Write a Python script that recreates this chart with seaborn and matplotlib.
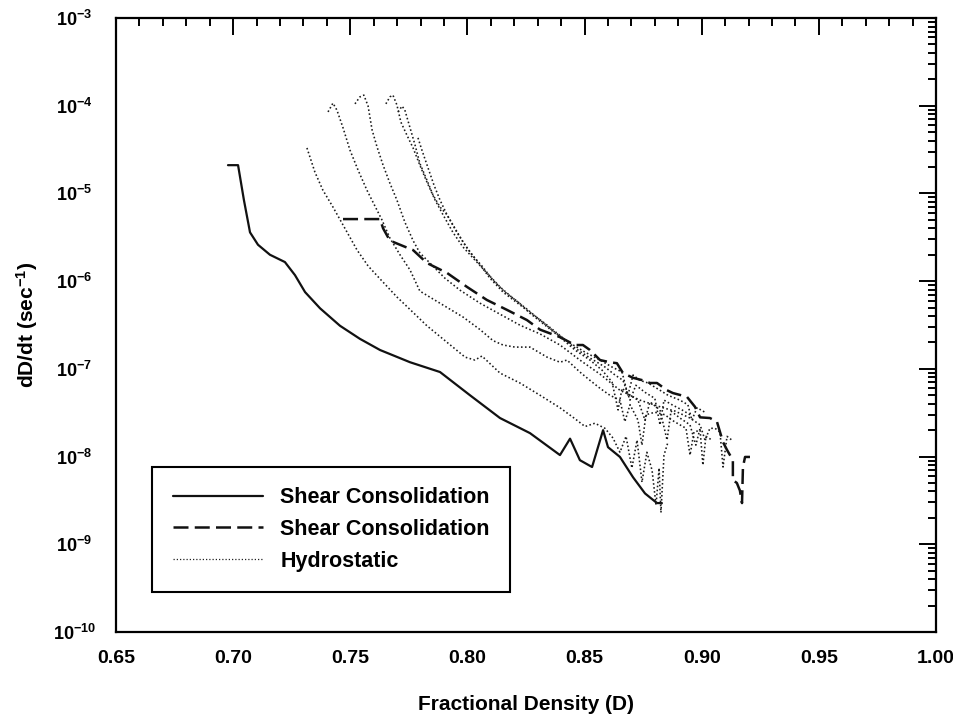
import numpy as np
import pandas as pd
import matplotlib
matplotlib.use("Agg")
import matplotlib.pyplot as plt
import seaborn as sns
from matplotlib.lines import Line2D
from matplotlib.ticker import FixedLocator, MultipleLocator, FuncFormatter, LogLocator, NullFormatter

# ---------------- data ----------------
shear1_D = [0.6978, 0.7021, 0.7046, 0.7072, 0.7106, 0.7157, 0.7221, 0.7264, 0.7307, 0.7371,
            0.7456, 0.7541, 0.7627, 0.7755, 0.7883, 0.8011, 0.8139, 0.8267, 0.8395, 0.8438,
            0.8480, 0.8532, 0.8579, 0.8600, 0.8651, 0.8707, 0.8758, 0.8809, 0.8830]
shear1_rate = [2.1e-5, 2.1e-5, 8.4e-6, 3.6e-6, 2.6e-6, 2.0e-6, 1.65e-6, 1.17e-6, 7.5e-7, 4.9e-7,
               3.1e-7, 2.2e-7, 1.64e-7, 1.19e-7, 9.2e-8, 5.0e-8, 2.75e-8, 1.85e-8, 1.04e-8, 1.6e-8,
               9.1e-9, 7.6e-9, 2.0e-8, 1.28e-8, 9.9e-9, 5.8e-9, 3.8e-9, 2.95e-9, 2.95e-9]

shear2_D = [0.7469, 0.7627, 0.7640, 0.7669, 0.7712, 0.7768, 0.7827, 0.7913, 0.7998, 0.8083,
            0.8169, 0.8254, 0.8310, 0.8395, 0.8459, 0.8493, 0.8523, 0.8566, 0.8608, 0.8638,
            0.8664, 0.8707, 0.8749, 0.8779, 0.8809, 0.8852, 0.8877, 0.8937, 0.8971, 0.8993,
            0.9035, 0.9065, 0.9091, 0.9108, 0.9133, 0.9133, 0.9150, 0.9163, 0.9172, 0.9176,
            0.9185, 0.9206]
shear2_rate = [5.1e-6, 5.1e-6, 4.0e-6, 2.9e-6, 2.6e-6, 2.26e-6, 1.61e-6, 1.24e-6, 8.6e-7, 6.1e-7,
               4.7e-7, 3.6e-7, 2.8e-7, 2.3e-7, 1.87e-7, 1.87e-7, 1.64e-7, 1.26e-7, 1.19e-7, 1.16e-7,
               8.95e-8, 7.9e-8, 7.4e-8, 6.9e-8, 6.9e-8, 5.7e-8, 5.3e-8, 4.8e-8, 3.7e-8, 2.8e-8,
               2.75e-8, 2.5e-8, 1.46e-8, 1.19e-8, 9.1e-9, 5.4e-9, 5.0e-9, 4.1e-9, 2.95e-9, 7.6e-9,
               9.9e-9, 9.9e-9]

hydA_D = [0.7315, 0.7349, 0.7383, 0.7426, 0.7477, 0.7529, 0.7576, 0.7627, 0.7699, 0.7768,
          0.7827, 0.7904, 0.7990, 0.8032, 0.8062, 0.8139, 0.8224, 0.8310, 0.8395, 0.8459,
          0.8502, 0.8544, 0.8587, 0.8621, 0.8651, 0.8677, 0.8702, 0.8724, 0.8745, 0.8766,
          0.8788, 0.8805, 0.8818, 0.8826, 0.8839, 0.8856]
hydA_rate = [3.3e-5, 1.75e-5, 1.09e-5, 7.0e-6, 4.0e-6, 2.26e-6, 1.49e-6, 1.06e-6, 6.6e-7, 4.4e-7,
             3.1e-7, 2.1e-7, 1.36e-7, 1.26e-7, 1.40e-7, 8.95e-8, 6.9e-8, 5.0e-8, 3.6e-8, 2.7e-8,
             2.2e-8, 2.4e-8, 2.1e-8, 1.63e-8, 1.12e-8, 1.7e-8, 7.4e-9, 1.54e-8, 5.1e-9, 1.12e-8,
             7.0e-9, 2.8e-9, 7.4e-9, 2.3e-9, 1.04e-8, 1.46e-8]

hydB_D = [0.7405, 0.7426, 0.7443, 0.7469, 0.7499, 0.7533, 0.7571, 0.7605, 0.7635, 0.7669,
          0.7712, 0.7755, 0.7797, 0.7883, 0.7981, 0.8054, 0.8109, 0.8152, 0.8203, 0.8267,
          0.8340, 0.8395, 0.8425, 0.8480, 0.8523, 0.8566, 0.8608, 0.8651, 0.8672, 0.8694,
          0.8728, 0.8745, 0.8762, 0.8800, 0.8843, 0.8873, 0.8907, 0.8933, 0.8950, 0.8967,
          0.8993, 0.9005, 0.9018, 0.9044]
hydB_rate = [8.5e-5, 1.07e-4, 8.9e-5, 5.6e-5, 3.1e-5, 1.85e-5, 1.09e-5, 7.2e-6, 5.0e-6, 3.1e-6,
             2.0e-6, 1.34e-6, 7.7e-7, 5.6e-7, 3.9e-7, 2.8e-7, 2.1e-7, 1.87e-7, 1.77e-7, 1.77e-7,
             1.36e-7, 1.19e-7, 1.26e-7, 9.2e-8, 7.4e-8, 6.0e-8, 5.0e-8, 4.4e-8, 2.5e-8, 3.9e-8,
             2.6e-8, 1.35e-8, 3.0e-8, 3.2e-8, 3.0e-8, 2.6e-8, 2.3e-8, 2.1e-8, 1.04e-8, 1.9e-8,
             2.0e-8, 8.0e-9, 1.7e-8, 1.54e-8]

hydC_D = [0.7520, 0.7541, 0.7558, 0.7576, 0.7593, 0.7614, 0.7640, 0.7669, 0.7699, 0.7733,
          0.7768, 0.7797, 0.7849, 0.7904, 0.7968, 0.8054, 0.8139, 0.8224, 0.8310, 0.8395,
          0.8480, 0.8566, 0.8651, 0.8736, 0.8835, 0.8886, 0.8950, 0.8993, 0.9014, 0.9035,
          0.9057, 0.9078, 0.9091, 0.9108, 0.9129]
hydC_rate = [1.05e-4, 1.26e-4, 1.32e-4, 9.9e-5, 5.3e-5, 3.4e-5, 2.1e-5, 1.31e-5, 8.4e-6, 4.7e-6,
             2.9e-6, 2.1e-6, 1.52e-6, 1.08e-6, 7.9e-7, 5.6e-7, 4.2e-7, 3.15e-7, 2.5e-7, 1.87e-7,
             1.26e-7, 8.7e-8, 5.7e-8, 4.4e-8, 3.6e-8, 3.3e-8, 2.75e-8, 2.3e-8, 1.54e-8, 2.1e-8,
             2.1e-8, 1.9e-8, 7.6e-9, 1.7e-8, 1.54e-8]

hydD_D = [0.7652, 0.7669, 0.7682, 0.7699, 0.7716, 0.7742, 0.7768, 0.7797, 0.7827, 0.7862,
          0.7896, 0.7938, 0.7981, 0.8032, 0.8083, 0.8139, 0.8194, 0.8254, 0.8310, 0.8374,
          0.8438, 0.8502, 0.8566, 0.8617, 0.8660, 0.8685, 0.8707, 0.8736, 0.8771, 0.8822,
          0.8856, 0.8907, 0.8941, 0.8958, 0.8980, 0.9014]
hydD_rate = [1.05e-4, 1.26e-4, 1.32e-4, 1.02e-4, 6.5e-5, 4.6e-5, 3.3e-5, 2.1e-5, 1.35e-5, 8.4e-6,
             5.7e-6, 3.6e-6, 2.45e-6, 1.74e-6, 1.24e-6, 8.6e-7, 6.4e-7, 4.8e-7, 3.6e-7, 2.6e-7,
             1.97e-7, 1.55e-7, 1.26e-7, 1.05e-7, 9.2e-8, 5.0e-8, 8.5e-8, 7.4e-8, 6.9e-8, 5.7e-8,
             5.0e-8, 4.4e-8, 3.9e-8, 2.6e-8, 3.6e-8, 3.2e-8]

hydE_D = [0.7704, 0.7721, 0.7733, 0.7755, 0.7776, 0.7797, 0.7827, 0.7853, 0.7883, 0.7913,
          0.7955, 0.7998, 0.8045, 0.8096, 0.8152, 0.8203, 0.8267, 0.8331, 0.8395, 0.8459,
          0.8523, 0.8587, 0.8630, 0.8664, 0.8694, 0.8719, 0.8758, 0.8800, 0.8822, 0.8839,
          0.8873, 0.8916, 0.8950]
hydE_rate = [8.5e-5, 9.9e-5, 8.9e-5, 5.6e-5, 3.6e-5, 2.2e-5, 1.42e-5, 9.6e-6, 7.0e-6, 5.7e-6,
             3.6e-6, 2.4e-6, 1.65e-6, 1.08e-6, 7.5e-7, 5.9e-7, 4.4e-7, 3.3e-7, 2.4e-7, 1.73e-7,
             1.33e-7, 1.05e-7, 8.5e-8, 7.4e-8, 4.4e-8, 6.5e-8, 5.4e-8, 4.6e-8, 2.3e-8, 4.4e-8,
             3.9e-8, 3.4e-8, 3.0e-8]

hydF_D = [0.7789, 0.7806, 0.7832, 0.7857, 0.7883, 0.7913, 0.7947, 0.7981, 0.8019, 0.8062,
          0.8109, 0.8160, 0.8216, 0.8267, 0.8331, 0.8395, 0.8459, 0.8523, 0.8574, 0.8617,
          0.8643, 0.8660, 0.8694, 0.8728, 0.8758, 0.8779, 0.8822, 0.8852, 0.8869, 0.8907,
          0.8950, 0.8975, 0.8993]
hydF_rate = [4.3e-5, 3.1e-5, 1.95e-5, 1.25e-5, 8.4e-6, 5.7e-6, 4.0e-6, 2.8e-6, 2.0e-6, 1.49e-6,
             1.03e-6, 7.5e-7, 5.8e-7, 4.3e-7, 3.15e-7, 2.3e-7, 1.64e-7, 1.26e-7, 9.7e-8, 7.1e-8,
             3.4e-8, 6.0e-8, 5.0e-8, 4.4e-8, 2.6e-8, 4.2e-8, 3.4e-8, 1.54e-8, 3.3e-8, 2.75e-8,
             2.3e-8, 1.35e-8, 2.1e-8]

legend_labels = ["Shear Consolidation", "Shear Consolidation", "Hydrostatic"]
x_ticks = [0.65, 0.70, 0.75, 0.80, 0.85, 0.90, 0.95, 1.00]
y_exponents = [-10, -9, -8, -7, -6, -5, -4, -3]

# ---------------- style ----------------
sns.set_theme(style="white")
plt.rcParams["font.family"] = ["Liberation Sans", "DejaVu Sans"]
plt.rcParams["font.weight"] = "bold"
plt.rcParams["mathtext.fontset"] = "custom"
plt.rcParams["mathtext.rm"] = "Liberation Sans:bold"
plt.rcParams["mathtext.bf"] = "Liberation Sans:bold"
plt.rcParams["mathtext.it"] = "Liberation Sans:bold"
plt.rcParams["mathtext.default"] = "rm"

W, H = 954, 718
fig = plt.figure(figsize=(W / 100, H / 100), dpi=100)
fig.patch.set_facecolor("white")
ax = fig.add_axes([116 / W, 1 - 632 / H, 820 / W, 614 / H])
ax.set_facecolor("white")

ink = "#111111"
solid_df = pd.DataFrame({"D": shear1_D, "rate": shear1_rate})
dash_df = pd.DataFrame({"D": shear2_D, "rate": shear2_rate})
sns.lineplot(data=solid_df, x="D", y="rate", ax=ax, sort=False, estimator=None,
             color=ink, lw=1.6, ls="-")
sns.lineplot(data=dash_df, x="D", y="rate", ax=ax, sort=False, estimator=None,
             color=ink, lw=1.8, ls=(0, (6, 2.5)))

hyd = [(hydA_D, hydA_rate), (hydB_D, hydB_rate), (hydC_D, hydC_rate),
       (hydD_D, hydD_rate), (hydE_D, hydE_rate), (hydF_D, hydF_rate)]
for xs, ys in hyd:
    df = pd.DataFrame({"D": xs, "rate": ys})
    sns.lineplot(data=df, x="D", y="rate", ax=ax, sort=False, estimator=None,
                 color="#1a1a1a", lw=1.15, ls=(0, (1, 1.5)))

ax.set_yscale("log")
ax.set_xlim(0.65, 1.00)
ax.set_ylim(1e-10, 1e-3)

ax.xaxis.set_major_locator(FixedLocator(x_ticks))
ax.xaxis.set_major_formatter(FuncFormatter(lambda v, p: f"{v:.2f}"))
ax.xaxis.set_minor_locator(MultipleLocator(0.01))

ax.yaxis.set_major_locator(FixedLocator([10.0 ** e for e in y_exponents]))
ax.yaxis.set_major_formatter(FuncFormatter(lambda v, p: r"$10^{%d}$" % int(round(np.log10(v)))))
ax.yaxis.set_minor_locator(LogLocator(base=10, subs=np.arange(2, 10), numticks=20))
ax.yaxis.set_minor_formatter(NullFormatter())

ax.tick_params(which="both", direction="in", top=True, right=True, color="black",
               width=1.4, labelcolor="black")
ax.tick_params(which="major", length=12)
ax.tick_params(which="minor", length=6)
ax.tick_params(axis="x", which="major", pad=13, labelsize=14)
ax.tick_params(axis="y", which="major", pad=30, labelsize=13)

for s in ax.spines.values():
    s.set_visible(True)
    s.set_linewidth(1.6)
    s.set_color("black")

ax.set_xlabel("Fractional Density (D)", fontsize=15, fontweight="bold", labelpad=20, color="black")
ax.set_ylabel(r"dD/dt (sec$^{-1}$)", fontsize=15, fontweight="bold", labelpad=9, color="black")

fig.canvas.draw()
for lbl in ax.get_yticklabels():
    lbl.set_horizontalalignment("center")

handles = [Line2D([], [], color=ink, lw=1.6, ls="-"),
           Line2D([], [], color=ink, lw=1.8, ls=(0, (6, 2.5))),
           Line2D([], [], color="#222222", lw=0.9, ls=(0, (1, 1.6)))]
leg = ax.legend(handles, legend_labels, loc="lower left", bbox_to_anchor=(0.044, 0.065),
                frameon=True, fancybox=False, edgecolor="black", framealpha=1,
                fontsize=15.5, handlelength=4.2, handletextpad=0.8, labelspacing=0.5,
                borderpad=0.95, borderaxespad=0)
leg.get_frame().set_linewidth(1.5)
for t in leg.get_texts():
    t.set_fontweight("bold")
    t.set_color("black")

fig.savefig("out.png", dpi=100, facecolor="white")
